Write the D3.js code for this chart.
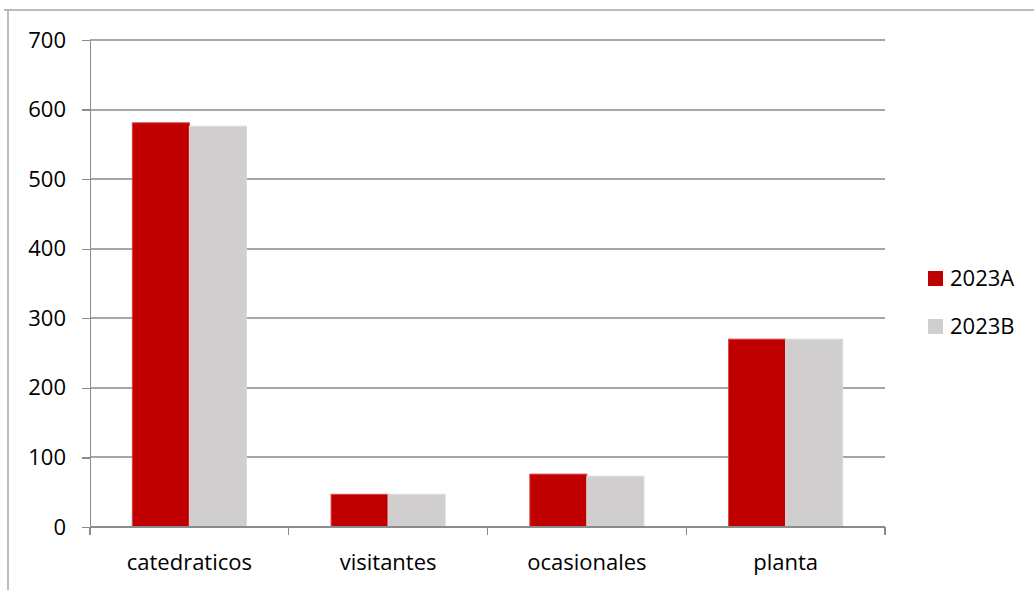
<!DOCTYPE html>
<html>
<head>
<meta charset="utf-8">
<title>catedraticos 2023A / 2023B</title>
<style>
body { margin: 0; background: #ffffff; }
svg { display: block; }
text { font-family: "Open Sans", Lato, sans-serif; fill: #000000; }
.grid line { stroke: #a6a6a6; stroke-width: 1.3px; shape-rendering: crispEdges; }
.axis path, .axis line { stroke: #8c8c8c; stroke-width: 1.3px; shape-rendering: crispEdges; fill: none; }
</style>
</head>
<body>
<script src="https://d3js.org/d3.v7.min.js"></script>
<script>
'use strict';
const categories = ['catedraticos', 'visitantes', 'ocasionales', 'planta'];
const seriesNames = ['2023A', '2023B'];
const values2023A = [581, 47, 76, 270];
const values2023B = [576, 47, 73, 270];
const yTicks = [0, 100, 200, 300, 400, 500, 600, 700];
const colors = ['#c00000', '#d0cece'];
const strokes = ['#d64545', '#dcdada'];

const W = 1034, H = 590;
const plotLeft = 90, plotRight = 885, plotTop = 40, plotBottom = 527;
const fontSize = '22px';

const svg = d3.select('body').append('svg')
	.attr('width', W)
	.attr('height', H);

// outer frame of the chart (top and left edges visible)
svg.append('line').attr('x1', 4).attr('x2', W).attr('y1', 10).attr('y2', 10)
	.attr('stroke', '#a6a6a6').attr('stroke-width', 1.5);
svg.append('line').attr('x1', 8).attr('x2', 8).attr('y1', 10).attr('y2', H)
	.attr('stroke', '#a6a6a6').attr('stroke-width', 1.5);

const x0 = d3.scaleBand().domain(categories).range([plotLeft, plotRight]).padding(0);
const gap = x0.bandwidth() * 0.213;
const x1 = d3.scaleBand().domain(seriesNames).range([gap, x0.bandwidth() - gap]).padding(0);
const y = d3.scaleLinear().domain([0, 700]).range([plotBottom, plotTop]);

// horizontal gridlines
svg.append('g').attr('class', 'grid')
	.selectAll('line').data(yTicks.filter(d => d > 0)).enter().append('line')
	.attr('x1', plotLeft).attr('x2', plotRight)
	.attr('y1', d => Math.round(y(d))).attr('y2', d => Math.round(y(d)));

// y axis
const yAxis = svg.append('g').attr('class', 'axis')
	.attr('transform', 'translate(' + plotLeft + ',0)')
	.call(d3.axisLeft(y).tickValues(yTicks).tickSize(8).tickPadding(16).tickSizeOuter(0));
yAxis.attr('font-family', null).attr('font-size', null);
yAxis.selectAll('text').style('font-size', fontSize).attr('fill', '#000');

// bars
const series = [values2023A, values2023B];
const g = svg.append('g');
categories.forEach(function (c, i) {
	g.selectAll(null).data(seriesNames).enter().append('rect')
		.attr('x', s => x0(c) + x1(s))
		.attr('width', x1.bandwidth())
		.attr('y', (s, j) => y(series[j][i]))
		.attr('height', (s, j) => plotBottom - y(series[j][i]))
		.attr('fill', (s, j) => colors[j])
		.attr('stroke', (s, j) => strokes[j])
		.attr('stroke-width', 1);
});

// x axis with category boundary ticks
const xAxis = svg.append('g').attr('class', 'axis')
	.attr('transform', 'translate(0,' + plotBottom + ')');
xAxis.append('line').attr('x1', plotLeft).attr('x2', plotRight).attr('y1', 0).attr('y2', 0);
const bounds = categories.map(c => x0(c)).concat([plotRight]);
xAxis.selectAll('.tk').data(bounds).enter().append('line')
	.attr('class', 'tk')
	.attr('x1', d => d).attr('x2', d => d).attr('y1', 0).attr('y2', 8);
xAxis.selectAll('.lbl').data(categories).enter().append('text')
	.attr('class', 'lbl')
	.attr('x', d => x0(d) + x0.bandwidth() / 2)
	.attr('y', 43)
	.attr('text-anchor', 'middle')
	.style('font-size', fontSize)
	.text(d => d);

// legend
const legend = svg.append('g').selectAll('g').data(seriesNames).enter().append('g')
	.attr('transform', (d, i) => 'translate(928,' + (271 + i * 48) + ')');
legend.append('rect').attr('width', 15).attr('height', 15)
	.attr('fill', (d, i) => colors[i]);
legend.append('text').attr('x', 22).attr('y', 15)
	.style('font-size', fontSize)
	.text(d => d);
</script>
</body>
</html>
